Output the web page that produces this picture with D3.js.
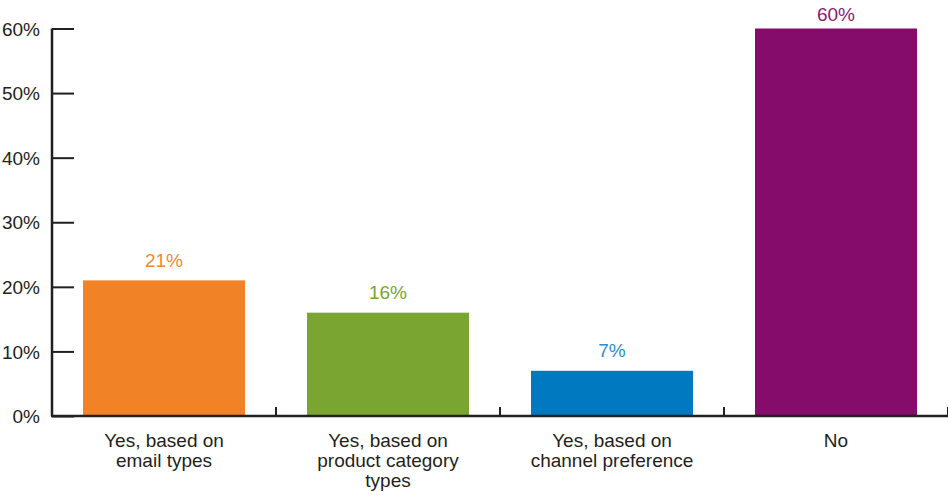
<!DOCTYPE html>
<html><head><meta charset="utf-8">
<script src="https://cdn.jsdelivr.net/npm/d3@7"></script>
<style>
html,body{margin:0;padding:0;background:#fff;}
svg{display:block;font-family:"Liberation Sans",Arial,sans-serif;}
</style></head>
<body>
<svg id="chart" width="948" height="495"></svg>
<script>
const categories = [["Yes, based on","email types"],["Yes, based on","product category","types"],["Yes, based on","channel preference"],["No"]];
const values = [21, 16, 7, 60];
const barColors = ["#F28226", "#7AA530", "#0079C1", "#850C6B"];
const labelColors = ["#F08a30", "#7AA530", "#2a8fd5", "#8a1a73"];
const yTicks = [0, 10, 20, 30, 40, 50, 60];

const svg = d3.select("#chart");
const ink = "#231f20";
const fs = 19;
const x = d3.scaleBand().domain(d3.range(categories.length)).range([52, 948]).paddingInner(0.2768).paddingOuter(0.1384);
const y = d3.scaleLinear().domain([0, 60]).range([416, 28.5]);

// bars
svg.selectAll("rect.bar").data(values).join("rect")
  .attr("x", (d,i) => x(i)).attr("width", x.bandwidth())
  .attr("y", d => y(d)).attr("height", d => y(0) - y(d))
  .attr("fill", (d,i) => barColors[i]);

// value labels
svg.selectAll("text.val").data(values).join("text")
  .attr("x", (d,i) => x(i) + x.bandwidth()/2)
  .attr("y", d => Math.max(y(d) - 13.5, 21))
  .attr("text-anchor", "middle").attr("font-size", fs)
  .attr("fill", (d,i) => labelColors[i])
  .text(d => d + "%");

// y axis
const yAxis = d3.axisLeft(y).tickValues(yTicks).tickSize(-22).tickPadding(12).tickFormat(d => d + "%");
const gy = svg.append("g").attr("transform", "translate(52,0)").call(yAxis);
gy.select(".domain").attr("stroke", ink).attr("stroke-width", 2.5).attr("d", "M0,28.5V416");
gy.selectAll(".tick line").attr("stroke", ink).attr("stroke-width", 2);
gy.selectAll(".tick text").attr("fill", ink).attr("font-size", fs).attr("font-family", "Liberation Sans, Arial, sans-serif").attr("dy", "0.35em");

// x axis
const bounds = d3.range(1, categories.length + 1).map(i => x.range()[0] + x.step() * i);
const gx = svg.append("g");
gx.append("line").attr("x1", 51).attr("x2", 948).attr("y1", 416).attr("y2", 416).attr("stroke", ink).attr("stroke-width", 2.5);
gx.selectAll("line.t").data(bounds).join("line")
  .attr("x1", d => d).attr("x2", d => d).attr("y1", 416).attr("y2", 407)
  .attr("stroke", ink).attr("stroke-width", 2);

// category labels
const cl = svg.selectAll("text.cat").data(categories).join("text")
  .attr("text-anchor", "middle").attr("font-size", fs).attr("fill", ink)
  .attr("transform", (d,i) => `translate(${x(i) + x.bandwidth()/2},447)`);
cl.selectAll("tspan").data(d => d).join("tspan")
  .attr("x", 0).attr("y", (d,j) => j * 20).text(d => d);
</script>
</body></html>
